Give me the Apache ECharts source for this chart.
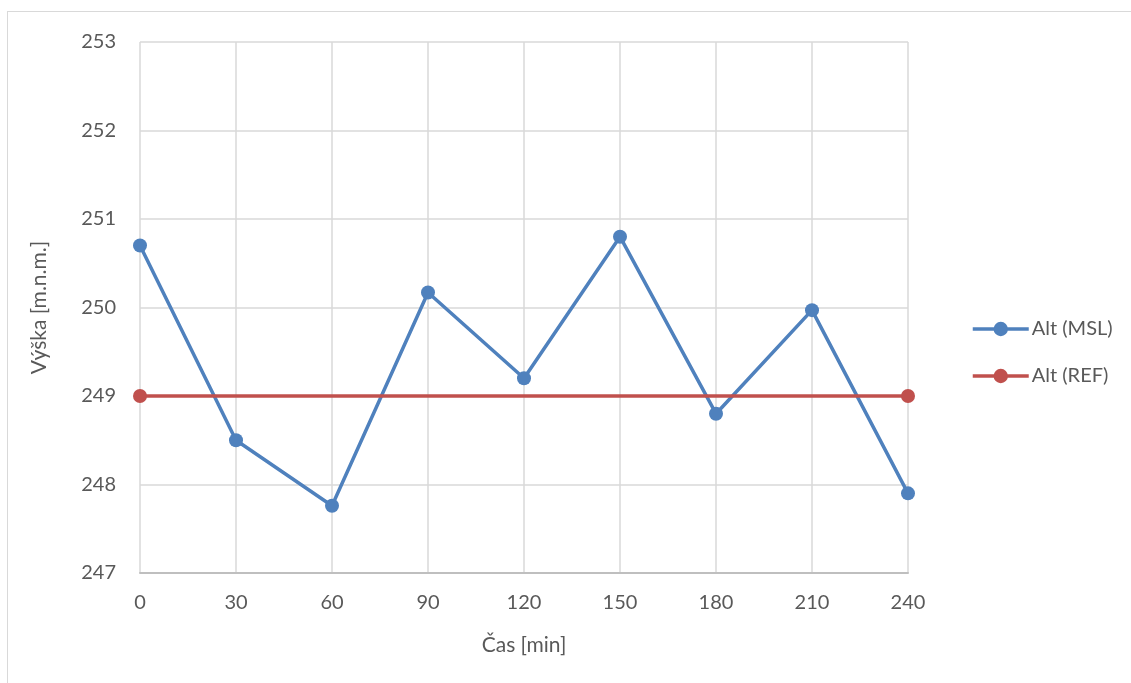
<!DOCTYPE html>
<html><head><meta charset="utf-8">
<script src="https://cdn.jsdelivr.net/npm/echarts@6/dist/echarts.min.js"></script>
<style>html,body{margin:0;padding:0;background:#fff;}#c{width:1131px;height:683px;}
#frame{position:absolute;left:7px;top:11px;width:1140px;height:700px;border:1px solid #d9d9d9;box-sizing:border-box;pointer-events:none;}</style>
</head><body><div id="c"></div><div id="frame"></div>
<script>
const times = [0, 30, 60, 90, 120, 150, 180, 210, 240];
const altMSL = [250.7, 248.5, 247.76, 250.17, 249.2, 250.8, 248.8, 249.97, 247.9];
const refTimes = [0, 240];
const altREF = [249, 249];
const seriesNames = ['Alt (MSL)', 'Alt (REF)'];

const chart = echarts.init(document.getElementById('c'));
const font = 'Lato, "Open Sans", sans-serif';
chart.setOption({
  animation: false,
  textStyle: { fontFamily: font },
  grid: { left: 140, right: 223, top: 42, bottom: 110 },
  legend: {
    orient: 'vertical', left: 966, top: 314, itemGap: 27,
    itemWidth: 56, itemHeight: 18,
    lineStyle: { width: 3.5 },
    textStyle: { fontSize: 20, color: '#595959', fontFamily: font, padding: [0, 0, 0, -2] },
    data: seriesNames
  },
  xAxis: {
    type: 'value', min: 0, max: 240, interval: 30,
    name: 'Čas [min]', nameLocation: 'middle', nameGap: 62,
    nameTextStyle: { fontSize: 21, color: '#595959' },
    axisLine: { show: true, lineStyle: { color: '#bfbfbf', width: 2 } },
    axisTick: { show: false },
    axisLabel: { fontSize: 20, color: '#595959', margin: 20 },
    splitLine: { show: true, lineStyle: { color: '#d9d9d9', width: 1.5 } }
  },
  yAxis: {
    type: 'value', min: 247, max: 253, interval: 1,
    name: 'Výška [m.n.m.]', nameLocation: 'middle', nameGap: 90, nameRotate: 90,
    nameTextStyle: { fontSize: 21, color: '#595959' },
    axisLine: { show: false },
    axisTick: { show: false },
    axisLabel: { fontSize: 20, color: '#595959', margin: 24 },
    splitLine: { show: true, lineStyle: { color: '#d9d9d9', width: 1.5 } }
  },
  series: [
    {
      name: seriesNames[0], type: 'line',
      data: times.map((t, i) => [t, altMSL[i]]),
      symbol: 'circle', symbolSize: 14,
      itemStyle: { color: '#4f81bd' },
      lineStyle: { color: '#4f81bd', width: 3.5 }
    },
    {
      name: seriesNames[1], type: 'line',
      data: refTimes.map((t, i) => [t, altREF[i]]),
      symbol: 'circle', symbolSize: 14,
      itemStyle: { color: '#c0504d' },
      lineStyle: { color: '#c0504d', width: 3.5 }
    }
  ]
});
</script></body></html>
